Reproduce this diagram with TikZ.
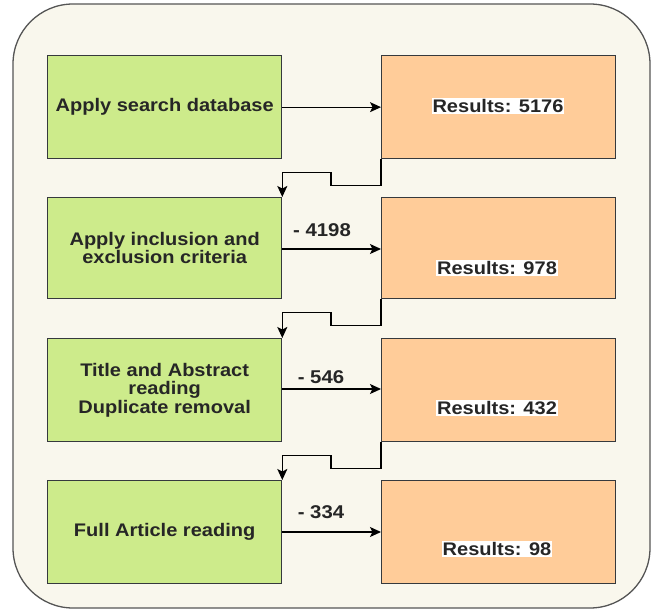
\documentclass[tikz,border=0pt]{standalone}
\usepackage{fontspec}
\setmainfont{Liberation Sans}[FakeStretch=1.1]
\usetikzlibrary{arrows.meta}
\definecolor{bgc}{HTML}{F9F7ED}
\definecolor{greenc}{HTML}{CDEB8B}
\definecolor{orangec}{HTML}{FFCC99}
\definecolor{linec}{HTML}{36393D}
\definecolor{framec}{HTML}{555555}
\tikzset{
  boxbase/.style={draw=linec, line width=1.3pt, minimum width=234pt, inner sep=0pt, anchor=north west},
  greenbox/.style={boxbase, fill=greenc, align=center, text=black!85, font=\fontsize{18.2}{18.3}\selectfont\bfseries},
  orangebox/.style={boxbase, fill=orangec},
  restext/.style={fill=white, inner sep=1pt, text=black!85, font=\fontsize{18.2}{18.3}\selectfont\bfseries},
  difftext/.style={inner sep=0pt, text=black!85, font=\fontsize{18.5}{18.3}\selectfont\bfseries},
  conn/.style={draw=black, line width=1.2pt, -{Stealth[length=11pt,width=10pt,inset=2.5pt]}},
}
\begin{document}
\begin{tikzpicture}[x=1pt,y=-1pt]
\useasboundingbox (0,0) rectangle (656,610);
\draw[framec, line width=1.3pt, fill=bgc, rounded corners=60pt] (13,4) rectangle (650,608);
% green boxes
\node[greenbox, minimum height=103pt] (g1) at (47,55) {Apply search database};
\node[greenbox, minimum height=101pt] (g2) at (47,197) {Apply inclusion and\\exclusion criteria};
\node[greenbox, minimum height=103pt] (g3) at (47,338) {Title and Abstract\\reading\\Duplicate removal};
\node[greenbox, minimum height=103pt] (g4) at (47,480) {Full Article reading};
% orange boxes
\node[orangebox, minimum height=103pt] (o1) at (381,55) {};
\node[orangebox, minimum height=101pt] (o2) at (381,197) {};
\node[orangebox, minimum height=103pt] (o3) at (381,338) {};
\node[orangebox, minimum height=103pt] (o4) at (381,480) {};
% result texts
\node[restext] (r1) at (498,106) {Results: 5176};
\node[restext] (r2) at (497,268) {Results: 978};
\node[restext] (r3) at (497,408) {Results: 432};
\node[restext] (r4) at (497,549) {Results: 98};
% horizontal arrows
\draw[conn] (g1.east) -- (o1.west |- g1.east);
\draw[conn] (g2.east |- 0,249) -- (o2.west |- 0,249);
\draw[conn] (g3.east |- 0,389) -- (o3.west |- 0,389);
\draw[conn] (g4.east |- 0,532) -- (o4.west |- 0,532);
% difference labels
\node[difftext] (d2) at (322,230) {- 4198};
\node[difftext] (d3) at (321,377) {- 546};
\node[difftext] (d4) at (321,512) {- 334};
% step connectors
\draw[conn] (o1.south west) -- ++(0,26) -- ++(-50,0) -- ++(0,-12.5) -| (g2.north east);
\draw[conn] (o2.south west) -- ++(0,26) -- ++(-50,0) -- ++(0,-12.5) -| (g3.north east);
\draw[conn] (o3.south west) -- ++(0,26) -- ++(-50,0) -- ++(0,-12.5) -| (g4.north east);
\end{tikzpicture}
\end{document}
